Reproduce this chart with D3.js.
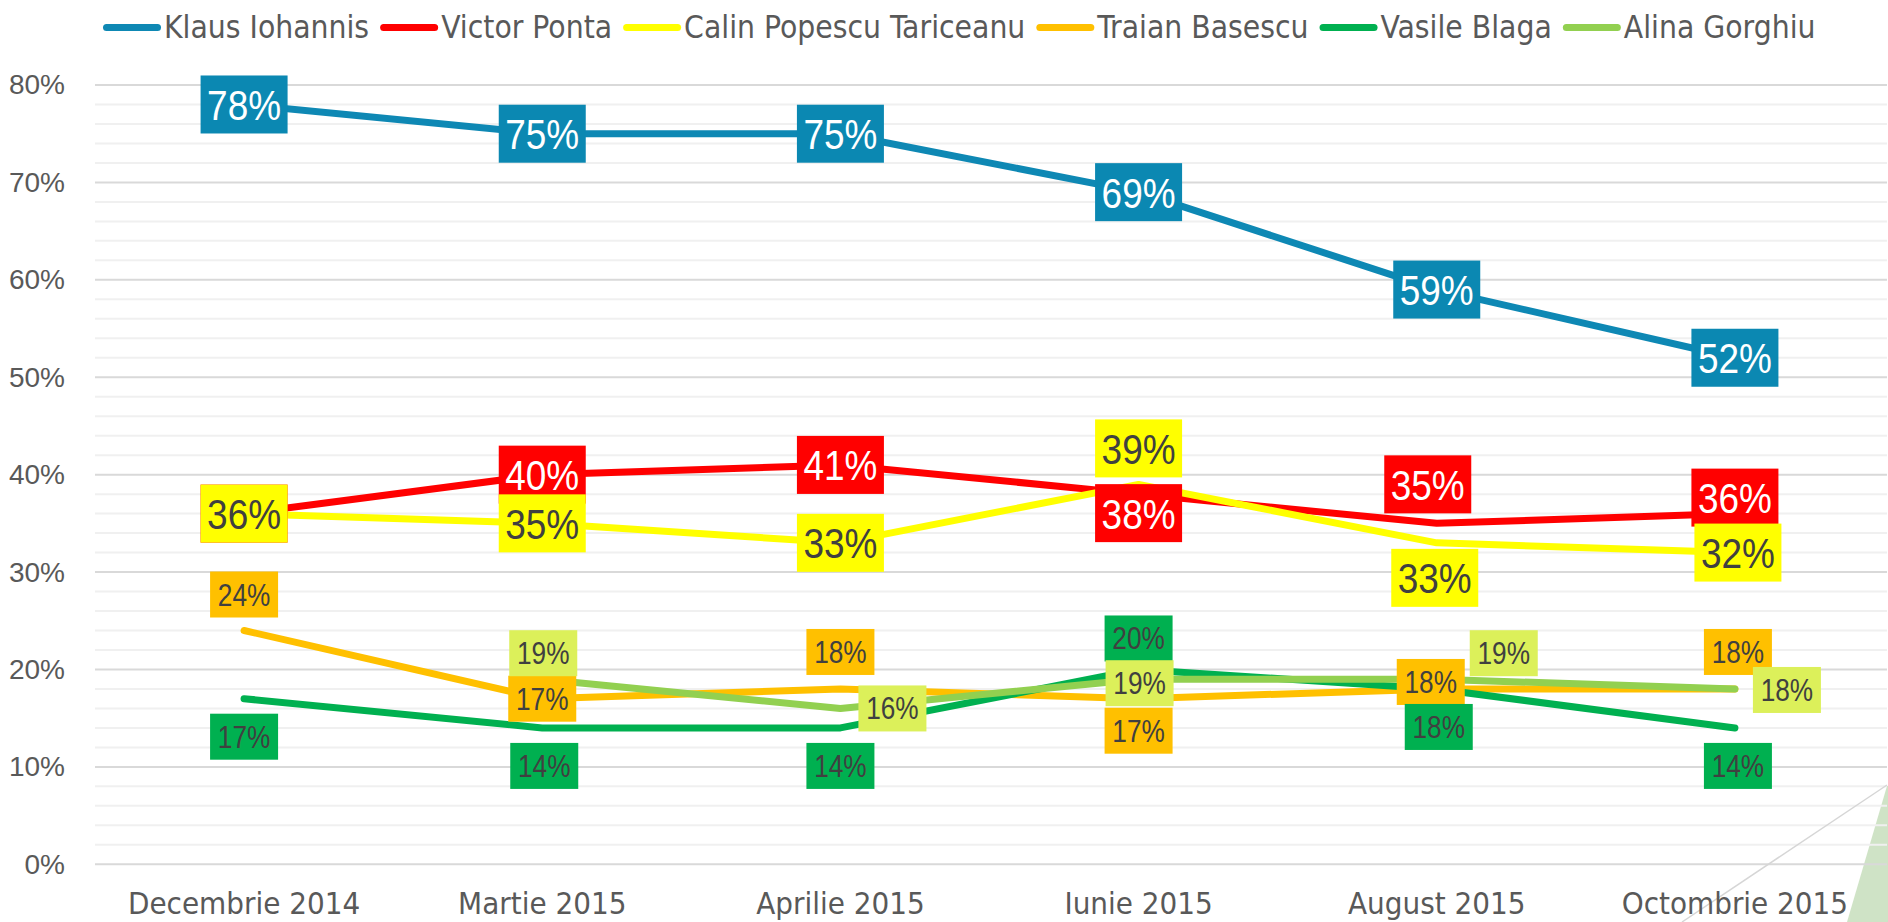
<!DOCTYPE html>
<html>
<head>
<meta charset="utf-8">
<script src="https://cdn.jsdelivr.net/npm/d3@7"></script>
<style>
body { margin: 0; background: #fff; }
svg { display: block; }
</style>
</head>
<body>
<div id="chart"></div>
<script>
var W = 1888, H = 922;

// data
var months = ["Decembrie 2014", "Martie 2015", "Aprilie 2015", "Iunie 2015", "August 2015", "Octombrie 2015"];
var names = ["Klaus Iohannis", "Victor Ponta", "Calin Popescu Tariceanu", "Traian Basescu", "Vasile Blaga", "Alina Gorghiu"];
var iohannis  = [78, 75, 75, 69, 59, 52];
var ponta     = [36, 40, 41, 38, 35, 36];
var tariceanu = [36, 35, 33, 39, 33, 32];
var basescu   = [24, 17, 18, 17, 18, 18];
var blaga     = [17, 14, 14, 20, 18, 14];
var gorghiu   = [null, 19, 16, 19, 19, 18];
var yTicks = [0, 10, 20, 30, 40, 50, 60, 70, 80];

var series = [iohannis, ponta, tariceanu, basescu, blaga, gorghiu];

// styles
var lineColors = ["#0E88B4", "#FF0000", "#FFFF00", "#FFC000", "#00B050", "#92D050"];
var boxColors  = ["#0B88B2", "#FF0000", "#FFFF00", "#FFC000", "#00B050", "#DCF05A"];
var textColors = ["#ffffff", "#ffffff", "#404040", "#404040", "#404040", "#404040"];
var labelSize  = [43, 43, 43, 30.5, 30.5, 30.5];
var labelBox   = [[87, 58], [87, 58], [87, 58], [68, 46], [68, 46], [68, 46]];
// label nudges [dx, dy] in px from the point, as placed in the original
var nudge = [
	[[0, 0], [0, 0], [0, 0], [0, 0], [0, 0], [0, 0]],
	[[0, 0], [0, 0], [0, 0], [0, 19], [-9, -39], [0, -16]],
	[[0, 0], [0, 0], [0, 0], [0, -36], [-2, 35], [3, 0]],
	[[0, -36], [0, 0], [0, -37], [0, 32], [-6, -7], [3, -37]],
	[[0, 38], [2, 38], [0, 38], [0, -31], [2, 38], [3, 38]],
	[null, [1, -26], [52, 0], [1, 4], [67, -26], [52, 1]]
];

var numFont = "'Liberation Sans', Arial, sans-serif";
var txtFont = "'DejaVu Sans Condensed', 'DejaVu Sans', sans-serif";
var narrow = 0.86;

var svg = d3.select("#chart")
	.append("svg")
	.attr("width", W)
	.attr("height", H);

var x = d3.scaleBand().domain(months).range([95, 1884]).padding(0);
var cx = function(m) { return x(m) + x.bandwidth() / 2; };
var y = d3.scaleLinear().domain([0, 80]).range([864.3, 85]);

// corner decoration
svg.append("path")
	.attr("d", "M1887,786L1847,922L1888,922L1888,786Z")
	.attr("fill", "#CFE3C6");

// gridlines
svg.append("g")
	.selectAll("line")
	.data(d3.range(2, 80, 2).filter(function(d) { return d % 10 != 0; }))
	.enter().append("line")
	.attr("x1", 95).attr("x2", 1887)
	.attr("y1", function(d) { return y(d); })
	.attr("y2", function(d) { return y(d); })
	.attr("stroke", "#F0F0F0")
	.attr("stroke-width", 2);

svg.append("g")
	.selectAll("line")
	.data(yTicks)
	.enter().append("line")
	.attr("x1", 95).attr("x2", 1887)
	.attr("y1", function(d) { return y(d); })
	.attr("y2", function(d) { return y(d); })
	.attr("stroke", "#D9D9D9")
	.attr("stroke-width", 2);

svg.append("line")
	.attr("x1", 1887).attr("y1", 785)
	.attr("x2", 1682).attr("y2", 922)
	.attr("stroke", "#D6D6D6")
	.attr("stroke-width", 1.5);

// axes
var yAxis = svg.append("g")
	.attr("transform", "translate(95,0)")
	.call(d3.axisLeft(y).tickValues(yTicks).tickSize(0).tickPadding(30)
		.tickFormat(function(d) { return d + "%"; }));
yAxis.select(".domain").remove();
yAxis.selectAll("text")
	.attr("fill", "#595959")
	.style("font-family", numFont)
	.style("font-size", "28px");

var xAxis = svg.append("g")
	.attr("transform", "translate(0," + y(0) + ")")
	.call(d3.axisBottom(x).tickSize(0).tickPadding(28));
xAxis.select(".domain").remove();
xAxis.selectAll("text")
	.attr("fill", "#595959")
	.style("font-family", txtFont)
	.style("font-size", "31px");

// lines
var line = d3.line()
	.defined(function(d) { return d[1] != null; })
	.x(function(d) { return cx(d[0]); })
	.y(function(d) { return y(d[1]); });

series.forEach(function(vals, i) {
	svg.append("path")
		.datum(months.map(function(m, j) { return [m, vals[j]]; }))
		.attr("d", line)
		.attr("fill", "none")
		.attr("stroke", lineColors[i])
		.attr("stroke-width", 7)
		.attr("stroke-linecap", "round")
		.attr("stroke-linejoin", "round");
});

// data labels
series.forEach(function(vals, i) {
	vals.forEach(function(v, j) {
		if (v == null) return;
		var n = nudge[i][j];
		var bw = labelBox[i][0], bh = labelBox[i][1];
		var g = svg.append("g")
			.attr("transform", "translate(" + (cx(months[j]) + n[0]) + "," + (y(v) + n[1]) + ")");
		g.append("rect")
			.attr("fill", boxColors[i])
			.attr("x", -bw / 2).attr("y", -bh / 2)
			.attr("width", bw).attr("height", bh);
		g.append("text")
			.attr("transform", "scale(" + narrow + ",1)")
			.attr("text-anchor", "middle")
			.attr("dy", "0.36em")
			.attr("fill", textColors[i])
			.style("font-family", numFont)
			.style("font-size", labelSize[i] + "px")
			.text(v + "%");
	});
});

// legend
var lx = 103;
names.forEach(function(name, i) {
	var g = svg.append("g").attr("transform", "translate(" + lx + ",0)");
	g.append("line")
		.attr("x1", 3.5).attr("x2", 54.5)
		.attr("y1", 27.5).attr("y2", 27.5)
		.attr("stroke", lineColors[i])
		.attr("stroke-width", 7)
		.attr("stroke-linecap", "round");
	var t = g.append("text")
		.attr("x", 61).attr("y", 38)
		.attr("fill", "#595959")
		.style("font-family", txtFont)
		.style("font-size", "31.5px")
		.text(name);
	lx += 61 + t.node().getComputedTextLength() + 11;
});
</script>
</body>
</html>
